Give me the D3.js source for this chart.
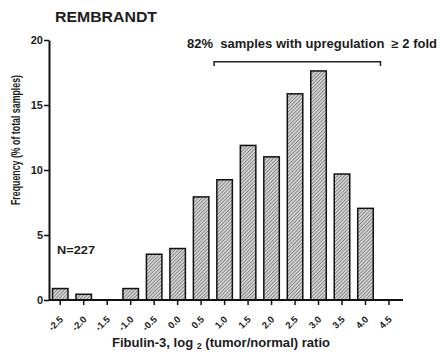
<!DOCTYPE html>
<html>
<head>
<meta charset="utf-8">
<script src="https://cdn.jsdelivr.net/npm/d3@7"></script>
<style>
  body { margin: 0; background: #fff; }
  text { font-family: "Liberation Sans", Arial, sans-serif; font-weight: bold; fill: #1c1c1c; }
</style>
</head>
<body>
<script>
// bins of log2 (tumor/normal) ratio and % of samples in each (N=227)
const bins = ["-2.5", "-2.0", "-1.5", "-1.0", "-0.5", "0.0", "0.5", "1.0", "1.5", "2.0", "2.5", "3.0", "3.5", "4.0", "4.5"];
const freq = [0.88, 0.44, 0, 0.88, 3.52, 3.96, 7.93, 9.25, 11.89, 11.01, 15.86, 17.62, 9.69, 7.05, 0];
const yTicks = [0, 5, 10, 15, 20];

let width = 441;
let height = 352;

const data = bins.map((b, i) => ({ bin: b, value: freq[i] }));

const x = d3.scaleBand()
    .domain(bins)
    .range([48.5, 400.7])
    .paddingInner(0.34)
    .paddingOuter(0.17);

const y = d3.scaleLinear()
    .domain([0, 20])
    .range([300, 40]);

const svg = d3.select("body").append("svg")
    .attr("width", width)
    .attr("height", height)
    .attr("viewBox", [0, 0, width, height]);

// hatch fill for the bars
const pat = svg.append("defs").append("pattern")
    .attr("id", "hatch")
    .attr("patternUnits", "userSpaceOnUse")
    .attr("width", 2.5)
    .attr("height", 2.5)
    .attr("patternTransform", "rotate(45)");
pat.append("rect").attr("width", 2.5).attr("height", 2.5).attr("fill", "#d4d4d4");
pat.append("line").attr("x1", 0).attr("y1", 0).attr("x2", 0).attr("y2", 2.5)
    .attr("stroke", "#505050").attr("stroke-width", 1.1);

// bars
svg.append("g")
    .selectAll("rect")
    .data(data.filter(d => d.value > 0))
    .join("rect")
    .attr("x", d => x(d.bin))
    .attr("y", d => y(d.value))
    .attr("width", x.bandwidth())
    .attr("height", d => y(0) - y(d.value))
    .attr("fill", "url(#hatch)")
    .attr("stroke", "#111")
    .attr("stroke-width", 1.5);

// x axis
const xAxis = svg.append("g")
    .attr("transform", `translate(0,${y(0)})`)
    .call(d3.axisBottom(x).tickSize(5).tickSizeOuter(0));
xAxis.select(".domain").attr("d", "M49,0H403").attr("stroke", "#111").attr("stroke-width", 2);
xAxis.selectAll(".tick line").attr("stroke", "#111").attr("stroke-width", 1.5);
xAxis.selectAll(".tick text")
    .attr("text-anchor", "end")
    .attr("y", 0)
    .attr("dy", 0)
    .attr("transform", "translate(3.5,20) rotate(-45)")
    .style("font-size", "9.5px")
    .style("font-family", "'Liberation Sans', Arial, sans-serif")
    .style("font-weight", "bold")
    .attr("fill", "#1c1c1c");

// y axis
const yAxis = svg.append("g")
    .attr("transform", "translate(49,0)")
    .call(d3.axisLeft(y).tickValues(yTicks).tickSize(5).tickSizeOuter(0).tickPadding(1));
yAxis.select(".domain").attr("stroke", "#111").attr("stroke-width", 2);
yAxis.selectAll(".tick line").attr("stroke", "#111").attr("stroke-width", 1.5);
yAxis.selectAll(".tick text")
    .style("font-size", "11px")
    .style("font-family", "'Liberation Sans', Arial, sans-serif")
    .style("font-weight", "bold")
    .attr("fill", "#1c1c1c");

// title
svg.append("text")
    .attr("x", 55)
    .attr("y", 22)
    .attr("textLength", 102)
    .attr("lengthAdjust", "spacingAndGlyphs")
    .style("font-size", "14px")
    .text("REMBRANDT");

// y axis title
svg.append("text")
    .attr("transform", "translate(20,140) rotate(-90)")
    .attr("text-anchor", "middle")
    .attr("textLength", 130)
    .attr("lengthAdjust", "spacingAndGlyphs")
    .style("font-size", "12px")
    .text("Frequency (% of total samples)");

// x axis title with subscript
const xt = svg.append("text")
    .attr("x", 112)
    .attr("y", 347)
    .attr("textLength", 218)
    .attr("lengthAdjust", "spacingAndGlyphs")
    .style("font-size", "12.5px")
    .style("white-space", "pre");
xt.append("tspan").text("Fibulin-3, log ");
xt.append("tspan").attr("dy", 2).style("font-size", "8.5px").text("2");
xt.append("tspan").attr("dy", -2).text(" (tumor/normal) ratio");

// N label
svg.append("text")
    .attr("x", 57)
    .attr("y", 254)
    .attr("textLength", 38)
    .attr("lengthAdjust", "spacingAndGlyphs")
    .style("font-size", "11px")
    .text("N=227");

// bracket over the upregulated bins
const bl = x("1.0") + x.bandwidth() / 2 - 10.5;
const br = x("4.5") + x.bandwidth() / 2 - 8.5;
svg.append("path")
    .attr("d", `M${bl},66V61.7H${br}V66`)
    .attr("fill", "none")
    .attr("stroke", "#222")
    .attr("stroke-width", 1.5);

svg.append("text")
    .attr("x", 187)
    .attr("y", 48)
    .attr("textLength", 250)
    .attr("lengthAdjust", "spacingAndGlyphs")
    .style("font-size", "12px")
    .style("white-space", "pre")
    .text("82%  samples with upregulation  \u2265 2 fold");
</script>
</body>
</html>
